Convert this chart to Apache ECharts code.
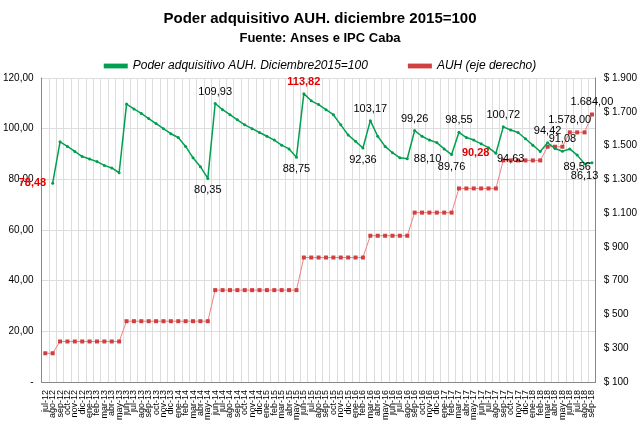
<!DOCTYPE html>
<html><head><meta charset="utf-8">
<script src="https://cdn.jsdelivr.net/npm/echarts@6/dist/echarts.min.js"></script>
<style>html,body{margin:0;padding:0;background:#fff}#c{width:640px;height:428px}</style>
</head><body><div id="c"></div>
<script>
const categories=[];
for(let i=0;i<75;i++){const m=(6+i)%12;const y=12+Math.floor((6+i)/12);categories.push(['ene','feb','mar','abr','may','jun','jul','ago','sep','oct','nov','dic'][m]+'-'+y);}
const poder=[null,78.48,
94.8,93,91,89,88,87,85.5,84.5,82.6,
109.7,107.8,106,104,102,100,98,96.5,93,88.5,85,80.35,
109.93,107.5,105.5,103.5,101.5,100,98.5,97,95.5,93.5,92,88.75,
113.82,111,109.5,107.5,105.5,101.5,97.5,95,92.36,
103.17,97,93,90.5,88.5,88.10,
99.26,97,95.5,94.5,92,89.76,
98.55,96.5,95.5,94,92.5,90.28,
100.72,99.5,98.5,96,93.5,91,94.42,92.2,91.08,92,89.56,86.13,86.5];
const auh=[270,270,340,340,340,340,340,340,340,340,340,
460,460,460,460,460,460,460,460,460,460,460,460,
644,644,644,644,644,644,644,644,644,644,644,644,
837,837,837,837,837,837,837,837,837,
966,966,966,966,966,966,
1103,1103,1103,1103,1103,1103,
1246,1246,1246,1246,1246,1246,
1412,1412,1412,1412,1412,1412,
1493,1493,1493,1578,1578,1578,1684];
const poderLabels={1:['78,48','#e00000','left'],22:['80,35','#000','bottom'],23:['109,93','#000','top'],34:['88,75','#000','bottom'],35:['113,82','#e00000','top'],43:['92,36','#000','bottom'],44:['103,17','#000','top'],49:['88,10','#000','right'],50:['99,26','#000','top'],55:['89,76','#000','bottom'],56:['98,55','#000','top'],61:['90,28','#e00000','left'],62:['100,72','#000','top'],63:['94,63','#000','bottom',22],68:['94,42','#000','top'],70:['91,08','#000','top'],72:['89,56','#000','bottom'],73:['86,13','#000','bottom']};
const auhLabels={71:'1.578,00',74:'1.684,00'};
const pData=poder.map((v,i)=>{const l=poderLabels[i];return l?{value:v,label:{show:true,formatter:l[0],color:l[1],position:l[2],distance:l[3]||5,fontSize:11,fontWeight:l[1]=='#000'?'normal':'bold'}}:v;});
const aData=auh.map((v,i)=>auhLabels[i]?{value:v,label:{show:true,formatter:auhLabels[i],position:'top',fontSize:11,color:'#000'}}:v);
const fmtDot=n=>String(n).replace(/\B(?=(\d{3})+(?!\d))/g,'.');
const chart=echarts.init(document.getElementById('c'));
chart.setOption({
 animation:false,
 title:{text:'Poder adquisitivo AUH. diciembre 2015=100',subtext:'Fuente: Anses e IPC Caba',left:'center',top:6,itemGap:6,
  textStyle:{fontSize:15,fontWeight:'bold',color:'#000',fontFamily:'Liberation Sans'},
  subtextStyle:{fontSize:13,fontWeight:'bold',color:'#000',fontFamily:'Liberation Sans'}},
 legend:{top:55,itemGap:40,itemWidth:24,textStyle:{fontStyle:'italic',fontSize:12,color:'#000'},
  data:[{name:'Poder adquisitivo AUH. Diciembre2015=100',icon:'path://M0,4h10v2h-10z'},{name:'AUH (eje derecho)',icon:'path://M0,4h10v2h-10z'}]},
 grid:{left:40,right:44,top:78,bottom:46},
 xAxis:{type:'category',data:categories,boundaryGap:true,
  axisLabel:{rotate:90,interval:0,fontSize:9,color:'#000'},
  axisTick:{show:false},axisLine:{lineStyle:{color:'#888'}},
  splitLine:{show:true,interval:0,lineStyle:{color:'#ddd'}}},
 yAxis:[{type:'value',min:0,max:120,interval:20,
  axisLabel:{fontSize:10,color:'#000',formatter:v=>v==0?'-':v.toFixed(2).replace('.',',')},
  axisLine:{show:true,lineStyle:{color:'#888'}},splitLine:{lineStyle:{color:'#ddd'}}},
  {type:'value',min:100,max:1900,interval:200,
  axisLabel:{fontSize:10,color:'#000',formatter:v=>'$ '+fmtDot(v)},
  axisLine:{show:true,lineStyle:{color:'#888'}},splitLine:{show:false}}],
 series:[
  {name:'Poder adquisitivo AUH. Diciembre2015=100',type:'line',data:pData,yAxisIndex:0,
   symbol:'circle',symbolSize:3,color:'#00a050',lineStyle:{width:1.5},itemStyle:{color:'#00a050'},z:3},
  {name:'AUH (eje derecho)',type:'line',data:aData,yAxisIndex:1,
   symbol:'rect',symbolSize:4,color:'#e06666',lineStyle:{width:1,color:'#f08080'},itemStyle:{color:'#d04040'},z:2}
 ]
});
</script></body></html>
